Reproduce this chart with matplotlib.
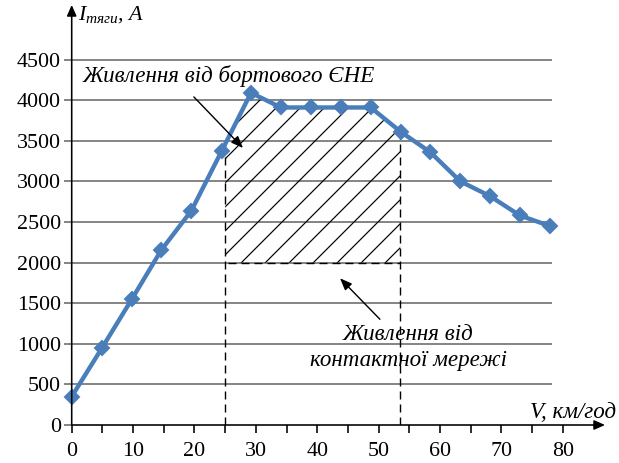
import numpy as np
import matplotlib.pyplot as plt

plt.rcParams['font.family'] = 'Liberation Serif'
plt.rcParams['mathtext.fontset'] = 'custom'
plt.rcParams['mathtext.it'] = 'Liberation Serif:italic'
plt.rcParams['mathtext.rm'] = 'Liberation Serif'
plt.rcParams['hatch.linewidth'] = 0.6
plt.rcParams['lines.scale_dashes'] = False

# швидкість, км/год і струм тяги, А
speed = [0, 4.9, 9.8, 14.6, 19.5, 24.4, 29.2, 34.1, 39.0, 43.8,
         48.7, 53.6, 58.4, 63.3, 68.1, 73.0, 77.9]
current = [350, 945, 1550, 2155, 2640, 3370, 4090, 3910, 3910, 3910,
           3910, 3610, 3360, 3000, 2820, 2580, 2450]

x_ticks = [0, 10, 20, 30, 40, 50, 60, 70, 80]
x_minor = [5, 15, 25, 35, 45, 55, 65, 75]
y_ticks = [0, 500, 1000, 1500, 2000, 2500, 3000, 3500, 4000, 4500]

# зона живлення від бортового ЄНЕ
v_start = 25
v_end = 53.5
i_low = 2000

blue = '#4a7ebb'
gray = '#878787'

fig = plt.figure(figsize=(619 / 144, 463 / 144), dpi=144)
ax = fig.add_axes([71.7 / 619, 38 / 463, (605 - 71.7) / 619, 420 / 463])
ax.set_xlim(0, 86.86)
ax.set_ylim(0, 5172)
for s in ax.spines.values():
    s.set_visible(False)

# сітка
ax.hlines(y_ticks[1:], 0, 78.3, color=gray, lw=1.0, zorder=1)

ax.set_yticks(y_ticks)
ax.set_xticks(x_ticks)
ax.set_xticks(x_minor, minor=True)
ax.tick_params(axis='y', length=4, width=1.0, color=gray, pad=1.5, labelsize=11)
ax.tick_params(axis='x', which='both', length=4, width=0.8, color='black', pad=4.5, labelsize=11)

# осі зі стрілками
arr = dict(arrowstyle='-|>,head_length=0.45,head_width=0.2', color='black', lw=0.8,
           shrinkA=0, shrinkB=0)
ax.annotate('', xy=(0, 1), xytext=(0, 0), xycoords='axes fraction', arrowprops=arr, zorder=6)
ax.annotate('', xy=(1, 0), xytext=(0, 0), xycoords='axes fraction', arrowprops=arr, zorder=6)

# заштрихована область
inner = [s for s in speed if v_start < s < v_end]
px = [v_start] + inner + [v_end]
top = np.interp(px, speed, current)
ax.fill(px + [v_end, v_start], list(top) + [i_low, i_low], facecolor='none',
        edgecolor='black', hatch='//', linewidth=0, zorder=2)

edges = np.interp([v_start, v_end], speed, current)
ax.vlines([v_start, v_end], 0, edges, color='black', lw=0.7, linestyles=[(0, (4, 2.5))], zorder=3)
ax.hlines(i_low, v_start + 0.5, v_end, color='black', lw=0.7, linestyles=[(0, (4, 2.5))], zorder=3)

ax.plot(speed, current, color=blue, lw=2.2, marker='D', ms=5, zorder=5, clip_on=False)

# підписи
ax.text(1.0, 4990, '$I_{тяги}$, $A$', fontsize=11, style='italic', va='baseline')
fig.text(616 / 619, (463 - 418) / 463, 'V, км/год', fontsize=11.5, style='italic',
         ha='right', va='baseline')

ax.text(1.84, 4224, 'Живлення від бортового ЄНЕ', fontsize=11.5, style='italic', va='baseline')
ax.annotate('', xy=(27.9, 3411), xytext=(19.9, 4040),
            arrowprops=dict(arrowstyle='-|>,head_length=0.5,head_width=0.2', color='black',
                            lw=0.7, shrinkA=0, shrinkB=0), zorder=6)

ax.text(54.8, 950, 'Живлення від\nконтактної мережі', fontsize=11.5, style='italic',
        ha='center', va='center', linespacing=1.3)
ax.annotate('', xy=(43.7, 1807), xytext=(50.2, 1302),
            arrowprops=dict(arrowstyle='-|>,head_length=0.5,head_width=0.2', color='black',
                            lw=0.7, shrinkA=0, shrinkB=0), zorder=6)

fig.savefig('out.png', dpi=144)
